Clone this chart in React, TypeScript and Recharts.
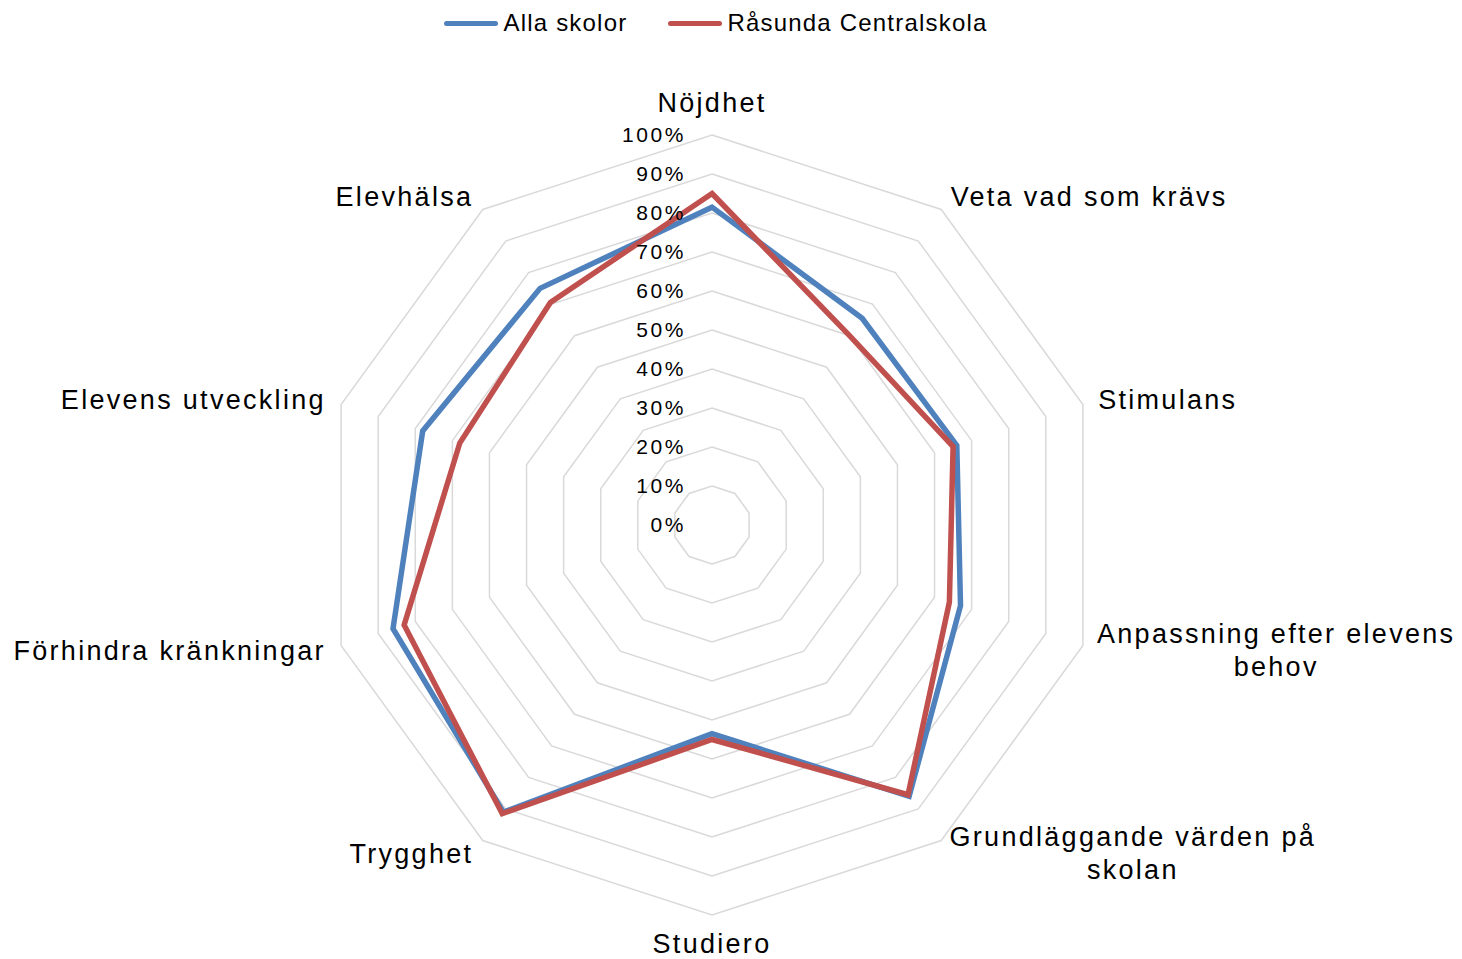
import React from "react";
import { PolarAngleAxis, PolarGrid, PolarRadiusAxis, Radar, RadarChart } from "recharts";

const categories = [
  "Nöjdhet",
  "Veta vad som krävs",
  "Stimulans",
  "Anpassning efter elevens behov",
  "Grundläggande värden på skolan",
  "Studiero",
  "Trygghet",
  "Förhindra kränkningar",
  "Elevens utveckling",
  "Elevhälsa",
];
const allaSkolor = [0.815, 0.655, 0.66, 0.67, 0.86, 0.535, 0.91, 0.86, 0.78, 0.75];
const rasunda = [0.85, 0.6, 0.65, 0.64, 0.855, 0.55, 0.915, 0.83, 0.68, 0.705];
const radiusTicks = [0, 0.1, 0.2, 0.3, 0.4, 0.5, 0.6, 0.7, 0.8, 0.9, 1];
const seriesNames = ["Alla skolor", "Råsunda Centralskola"];
const seriesColors = ["#4f81bd", "#c0504d"];

const W = 1462;
const H = 959;
const CX = 712;
const CY = 525;
const FONT = '"Liberation Sans", Arial, sans-serif';

const data = categories.map((name, i) => ({
  name,
  alla: allaSkolor[i],
  rasunda: rasunda[i],
}));

// greedy wrap for the long category names
function wrap(label: string, max = 24): string[] {
  const out: string[] = [];
  let cur = "";
  for (const w of label.split(" ")) {
    const next = cur ? cur + " " + w : w;
    if (next.length > max && cur) {
      out.push(cur);
      cur = w;
    } else cur = next;
  }
  if (cur) out.push(cur);
  return out;
}

let ctx: CanvasRenderingContext2D | null = null;
function textWidth(s: string, size: number, spacing: number) {
  if (!ctx) ctx = document.createElement("canvas").getContext("2d");
  if (!ctx) return s.length * size * 0.55;
  ctx.font = `${size}px ${FONT}`;
  return ctx.measureText(s).width + spacing * (s.length - 1);
}

const CAT_SIZE = 27;
const CAT_SPACING = 2.3;
const LINE_H = 33;

function AngleTick(props: any) {
  const { x, y, textAnchor, payload } = props;
  const lines = wrap(String(payload.value));
  let anchor = textAnchor;
  let tx = x;
  if (lines.length > 1 && textAnchor !== "middle") {
    const w = Math.max(...lines.map((l) => textWidth(l, CAT_SIZE, CAT_SPACING)));
    anchor = "middle";
    tx = textAnchor === "start" ? x + w / 2 : x - w / 2;
  }
  let y0: number;
  let dy = "0.35em";
  if (textAnchor === "middle") {
    dy = "0";
    y0 = y < CY ? y - 7 - (lines.length - 1) * LINE_H : y + 22;
  } else {
    y0 = y - ((lines.length - 1) * LINE_H) / 2;
  }
  return (
    <text
      x={tx}
      y={y0}
      textAnchor={anchor}
      fontSize={CAT_SIZE}
      letterSpacing={CAT_SPACING}
      fontFamily={FONT}
      fill="#000"
    >
      {lines.map((l, i) => (
        <tspan key={i} x={tx} y={y0 + i * LINE_H} dy={dy}>
          {l}
        </tspan>
      ))}
    </text>
  );
}

function RadiusTick(props: any) {
  const { x, y, payload } = props;
  return (
    <text
      x={x - 26}
      y={y}
      dy="0.35em"
      textAnchor="end"
      fontSize={21}
      letterSpacing={2.6}
      fontFamily={FONT}
      fill="#000"
    >
      {`${Math.round(payload.value * 100)}%`}
    </text>
  );
}

function ChartLegend() {
  return (
    <div
      style={{
        position: "absolute",
        top: 10,
        left: 0,
        width: 1432,
        display: "flex",
        justifyContent: "center",
        alignItems: "center",
        gap: 41,
        fontFamily: FONT,
        fontSize: 24,
        letterSpacing: 1.2,
        color: "#000",
        lineHeight: "26px",
      }}
    >
      {seriesNames.map((n, i) => (
        <div key={n} style={{ display: "flex", alignItems: "center" }}>
          <span
            style={{
              display: "inline-block",
              width: 54,
              height: 5,
              borderRadius: 3,
              background: seriesColors[i],
              marginRight: 5,
            }}
          />
          <span>{n}</span>
        </div>
      ))}
    </div>
  );
}

export default function App() {
  return (
    <div style={{ position: "absolute", left: 0, top: 0, width: W, height: H, background: "#fff" }}>
      <RadarChart
        width={W}
        height={H}
        data={data}
        cx={CX}
        cy={CY}
        outerRadius={390}
        margin={{ top: 0, right: 0, bottom: 0, left: 0 }}
      >
        <PolarGrid gridType="polygon" radialLines={false} stroke="#d9d9d9" strokeWidth={1.5} />
        <PolarAngleAxis
          dataKey="name"
          tick={AngleTick}
          tickLine={false}
          axisLine={false}
          tickSize={16}
        />
        <PolarRadiusAxis
          angle={90}
          domain={[0, 1]}
          ticks={radiusTicks as any}
          tickCount={11}
          axisLine={false}
          tickLine={false}
          tick={RadiusTick}
        />
        <Radar
          name={seriesNames[0]}
          dataKey="alla"
          stroke={seriesColors[0]}
          strokeWidth={5.5}
          fill="none"
          fillOpacity={0}
          dot={false}
          isAnimationActive={false}
        />
        <Radar
          name={seriesNames[1]}
          dataKey="rasunda"
          stroke={seriesColors[1]}
          strokeWidth={5.5}
          fill="none"
          fillOpacity={0}
          dot={false}
          isAnimationActive={false}
        />
      </RadarChart>
      <ChartLegend />
    </div>
  );
}
